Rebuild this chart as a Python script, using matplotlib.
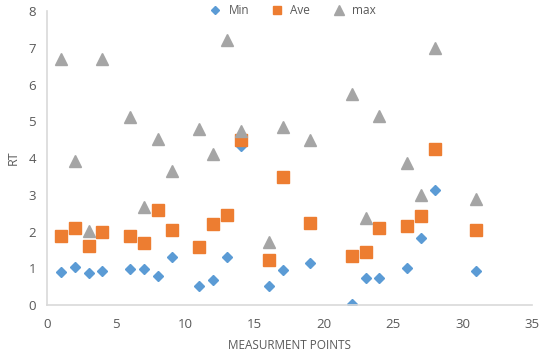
import numpy as np
import matplotlib.pyplot as plt

points = [1, 2, 3, 4, 6, 7, 8, 9, 11, 12, 13, 14, 16, 17, 19, 22, 23, 24, 26, 27, 28, 31]
rt_min = [0.90, 1.03, 0.87, 0.93, 0.98, 0.98, 0.79, 1.31, 0.52, 0.68, 1.31, 4.33,
          0.52, 0.95, 1.14, 0.03, 0.73, 0.73, 1.00, 1.82, 3.13, 0.93]
rt_ave = [1.88, 2.10, 1.61, 1.99, 1.88, 1.69, 2.59, 2.04, 1.58, 2.20, 2.45, 4.49,
          1.22, 3.48, 2.23, 1.33, 1.44, 2.10, 2.15, 2.42, 4.24, 2.04]
rt_max = [6.69, 3.92, 2.01, 6.69, 5.12, 2.67, 4.52, 3.65, 4.79, 4.11, 7.21, 4.73,
          1.71, 4.84, 4.49, 5.74, 2.37, 5.14, 3.86, 2.99, 6.99, 2.88]

plt.rcParams['font.family'] = ['Open Sans', 'DejaVu Sans']

fig = plt.figure(figsize=(5.41, 3.54), dpi=100)
ax = fig.add_axes([0.087, 0.138, 0.896, 0.831])

p1, = ax.plot(points, rt_min, 'D', color='#5B9BD5', markersize=5.5, linestyle='none')
p2, = ax.plot(points, rt_ave, 's', color='#ED7D31', markersize=8, linestyle='none')
p3, = ax.plot(points, rt_max, '^', color='#A5A5A5', markersize=9, linestyle='none')

ax.set_xlim(0, 35)
ax.set_ylim(0, 8)
ax.set_xticks(np.arange(0, 36, 5))
ax.set_yticks(np.arange(0, 9, 1))
ax.tick_params(length=0, labelsize=9.5, colors='#595959')
ax.tick_params(axis='x', pad=9)
ax.tick_params(axis='y', pad=8)

for s in ['top', 'right']:
    ax.spines[s].set_visible(False)
for s in ['left', 'bottom']:
    ax.spines[s].set_color('#D9D9D9')
    ax.spines[s].set_linewidth(1.2)

ax.set_xlabel('MEASURMENT POINTS', fontsize=8.5, color='#595959', labelpad=6)
ax.set_ylabel('RT', fontsize=9, color='#595959', labelpad=6)

ax.legend([p1, p2, p3], ['Min', 'Ave', 'max'], loc='upper center',
          bbox_to_anchor=(0.5, 1.06), ncol=3, frameon=False, fontsize=8.5,
          labelcolor='#595959', handletextpad=0.1, columnspacing=1.4,
          markerscale=0.8)

fig.savefig('out.png', dpi=100)
